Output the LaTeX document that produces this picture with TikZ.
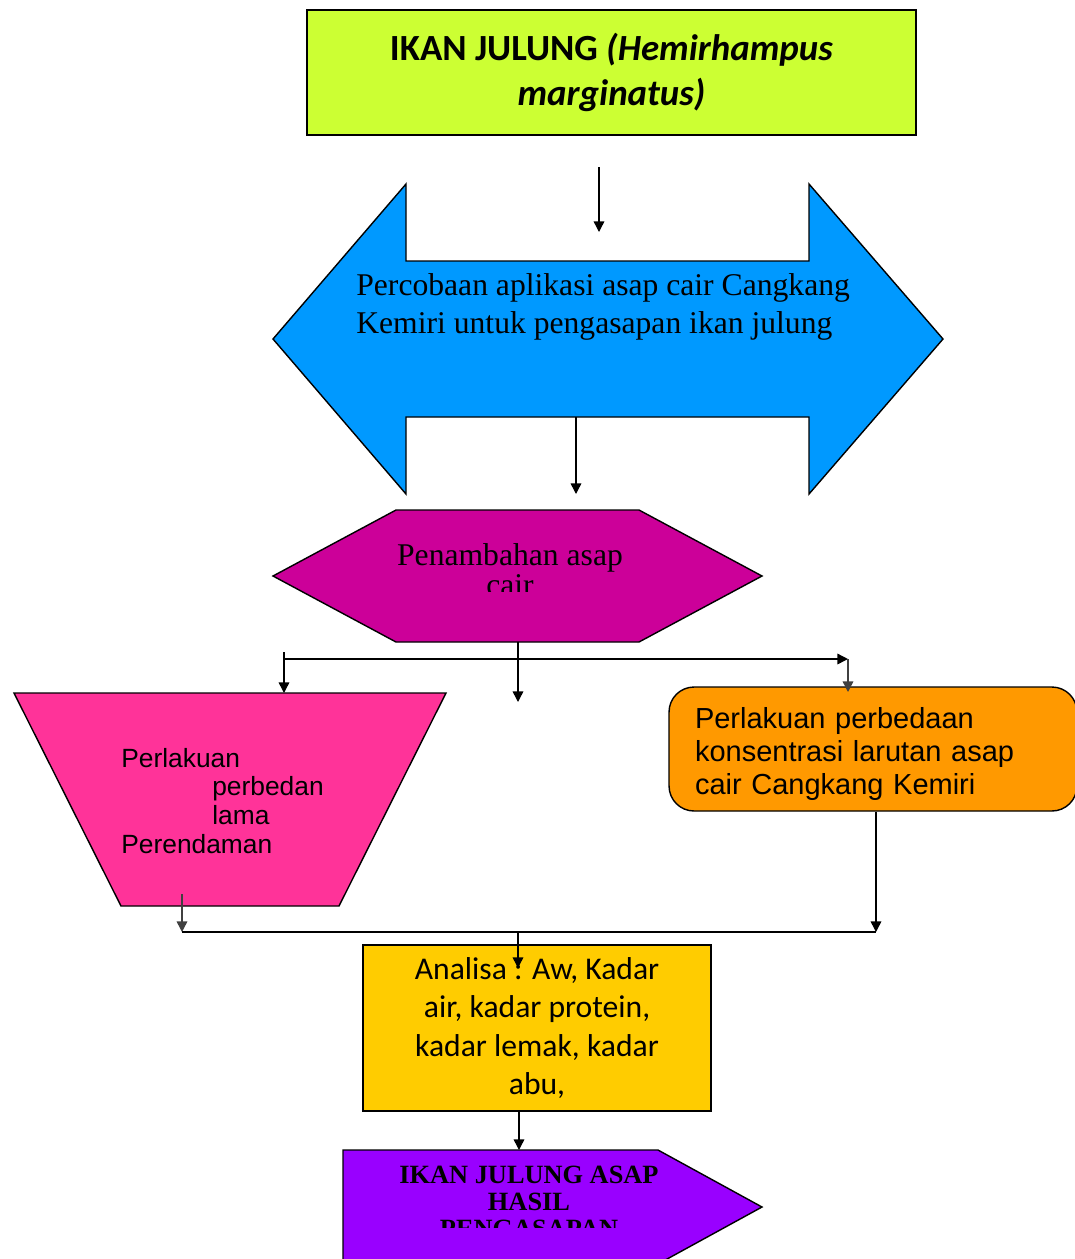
\documentclass[tikz,border=0pt]{standalone}
\usepackage{fontspec}
\setmainfont{Liberation Serif}
\newfontfamily\calibri{Carlito}
\newfontfamily\arial{Liberation Sans}
\usetikzlibrary{arrows.meta,arrows}
\usetikzlibrary{positioning}

\definecolor{limegreen}{HTML}{CCFF33}
\definecolor{skyblue}{HTML}{0099FF}
\definecolor{plum}{HTML}{CC0099}
\definecolor{hotpink}{HTML}{FF3399}
\definecolor{amber}{HTML}{FF9900}
\definecolor{gold}{HTML}{FFCC00}
\definecolor{grape}{HTML}{9900FF}

\begin{document}
\begin{tikzpicture}[x=0.02cm,y=-0.02cm,
    >={Triangle[length=6pt,width=6pt]},
    shapeline/.style={draw=black,line width=0.8pt,line join=miter},
    link/.style={line width=0.8pt}]
    \useasboundingbox (0,0) rectangle (1075,1259);
    \clip (0,0) rectangle (1075,1259);

    % shapes
    \path[shapeline,fill=skyblue] (273,339) -- (406,184) -- (406,261) -- (809,261)
        -- (809,184) -- (943,339) -- (809,494) -- (809,417) -- (406,417) -- (406,494) -- cycle;
    \path[shapeline,fill=plum] (273,576) -- (396,510) -- (639,510) -- (762,576)
        -- (639,642) -- (396,642) -- cycle;
    \path[shapeline,fill=hotpink] (14,693) -- (446,693) -- (339,906) -- (121,906) -- cycle;
    \path[shapeline,fill=grape] (343,1150) -- (658,1150) -- (762,1207) -- (658,1264)
        -- (343,1264) -- cycle;

    \begin{scope}[every node/.style={shapeline,inner sep=0pt}]
        \node[fill=limegreen,minimum width=12.18cm,minimum height=2.5cm,align=center,
            font=\calibri\bfseries\fontsize{21}{25.6}\selectfont] (ikan) at (611.5,72.5)
            {IKAN JULUNG \textit{(Hemirhampus}\\\textit{marginatus)}};
        \node[fill=amber,rounded corners=0.5cm,minimum height=2.48cm,text width=7.12cm,
            inner xsep=0.52cm,align=left,font=\arial\fontsize{16.5}{19}\selectfont]
            (perbedaan) at (873,749)
            {\rule{0pt}{17.7pt}Perlakuan perbedaan\\konsentrasi larutan asap\\cair Cangkang Kemiri};
        \node[fill=gold,minimum width=6.96cm,minimum height=3.32cm,align=center,
            font=\calibri\fontsize{18}{21.8}\selectfont] (analisa) at (537,1028)
            {Analisa : Aw, Kadar\\air, kadar protein,\\kadar lemak, kadar\\abu,};
    \end{scope}

    % texts (base = last line)
    \node[anchor=base west,align=left,inner sep=0pt,font=\fontsize{18}{21.6}\selectfont]
        (percobaan) at (356,333)
        {Percobaan aplikasi asap cair Cangkang\\Kemiri untuk pengasapan ikan julung};
    \begin{scope}
        \clip (270,505) rectangle (770,591);
        \node[anchor=base,align=center,inner sep=0pt,font=\fontsize{18}{17}\selectfont]
            (penambahan) at (510,595) {Penambahan asap\\cair};
    \end{scope}
    \node[anchor=base west,align=left,inner sep=0pt,font=\arial\fontsize{15}{16.3}\selectfont]
        (lama) at (121,853)
        {Perlakuan\\\hspace*{1.82cm}perbedan\\\hspace*{1.82cm}lama\\Perendaman};
    \begin{scope}
        \clip (340,1152) rectangle (770,1227);
        \node[anchor=base,align=center,inner sep=0pt,font=\bfseries\fontsize{15}{15.3}\selectfont]
            (hasil) at (529,1237) {IKAN JULUNG ASAP\\HASIL\\PENGASAPAN};
    \end{scope}

    % connector points
    \coordinate (ikanout) at (599,167);
    \coordinate (percin) at (599,232);
    \coordinate (percout) at (576,417);
    \coordinate (hexin) at (576,494);
    \coordinate (hexout) at (518,642);
    \coordinate (midend) at (518,702);
    \coordinate (leftstart) at (284,652);
    \coordinate (trapin) at (284,693);
    \coordinate (splitL) at (284,659);
    \coordinate (splitR) at (848,659);
    \coordinate (orangein) at (848,692);
    \coordinate (trapout) at (182,894);
    \coordinate (joinL) at (182,932);
    \coordinate (joinM) at (518,932);
    \coordinate (joinR) at (876,932);
    \coordinate (analisain) at (518,968);
    \coordinate (hasilin) at (519,1150);

    \begin{scope}[link]
        \draw[->] (ikanout) -- (percin);
        \draw[->] (percout) -- (hexin);
        \draw[->] (hexout) -- (midend);
        \draw[->] (leftstart) -- (trapin);
        \draw[->] (splitL) -- (splitR);
        \draw[->,black!75] (splitR) -- (orangein);
        \draw[->,black!75] (trapout) -- (joinL);
        \draw (joinL) -- (joinR);
        \draw[->] (perbedaan.south -| joinR) -- (joinR);
        \draw[->] (joinM) -- (analisain);
        \draw[->] (analisa.south -| hasilin) -- (hasilin);
    \end{scope}
\end{tikzpicture}
\end{document}
